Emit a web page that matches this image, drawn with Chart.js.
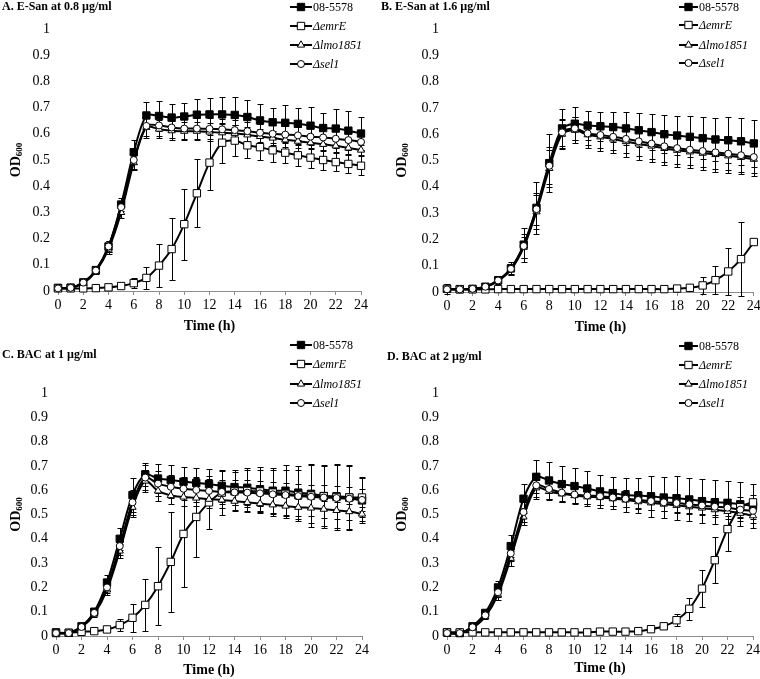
<!DOCTYPE html>
<html>
<head>
<meta charset="utf-8">
<script src="https://cdn.jsdelivr.net/npm/chart.js@4.4.0/dist/chart.umd.min.js"></script>
<style>
  body { margin: 0; background: #fff; }
  #wrap { position: relative; width: 760px; height: 679px; overflow: hidden; }
  canvas { position: absolute; }
</style>
</head>
<body>
<div id="wrap">
  <canvas id="cA" width="380" height="340" style="left:0;top:0"></canvas>
  <canvas id="cB" width="380" height="340" style="left:380px;top:0"></canvas>
  <canvas id="cC" width="380" height="349" style="left:0;top:330px"></canvas>
  <canvas id="cD" width="380" height="349" style="left:380px;top:330px"></canvas>
</div>
<script>
// time points (h)
const hours = [0,1,2,3,4,5,6,7,8,9,10,11,12,13,14,15,16,17,18,19,20,21,22,23,24];
const strains = ['08-5578', '\u0394emrE', '\u0394lmo1851', '\u0394sel1'];
const titles = ['A. E-San at 0.8 \u00b5g/ml', 'B. E-San at 1.6 \u00b5g/ml', 'C. BAC at 1 \u00b5g/ml', 'D. BAC at 2 \u00b5g/ml'];

// A. E-San 0.8
const A_wt      = [0.012,0.013,0.033,0.08,0.17,0.33,0.53,0.67,0.668,0.662,0.666,0.673,0.674,0.674,0.672,0.664,0.651,0.644,0.642,0.638,0.631,0.622,0.62,0.612,0.601];
const A_wt_sd   = [0.005,0.004,0.006,0.01,0.02,0.025,0.045,0.05,0.057,0.05,0.05,0.06,0.063,0.066,0.068,0.065,0.062,0.055,0.067,0.062,0.07,0.057,0.075,0.075,0.063];
const A_emrE    = [0.01,0.01,0.01,0.011,0.014,0.019,0.03,0.05,0.097,0.16,0.255,0.373,0.49,0.566,0.574,0.556,0.549,0.537,0.528,0.518,0.509,0.5,0.492,0.485,0.478];
const A_emrE_sd = [0.003,0.003,0.003,0.003,0.004,0.006,0.02,0.043,0.082,0.117,0.135,0.13,0.105,0.077,0.06,0.05,0.05,0.045,0.04,0.04,0.038,0.037,0.035,0.035,0.037];
const A_lmo     = [0.01,0.012,0.03,0.075,0.16,0.3,0.49,0.625,0.618,0.612,0.61,0.61,0.607,0.604,0.602,0.596,0.59,0.584,0.577,0.572,0.566,0.56,0.554,0.546,0.538];
const A_lmo_sd  = [0.004,0.004,0.006,0.01,0.02,0.02,0.03,0.04,0.035,0.035,0.035,0.035,0.035,0.033,0.032,0.03,0.03,0.028,0.027,0.025,0.025,0.025,0.025,0.022,0.02];
const A_sel     = [0.01,0.012,0.032,0.078,0.17,0.32,0.5,0.63,0.632,0.624,0.62,0.62,0.619,0.617,0.614,0.61,0.604,0.6,0.597,0.594,0.589,0.586,0.581,0.576,0.569];
const A_sel_sd  = [0.004,0.004,0.006,0.01,0.02,0.025,0.035,0.04,0.04,0.04,0.04,0.04,0.04,0.038,0.038,0.036,0.035,0.035,0.034,0.033,0.032,0.032,0.03,0.03,0.03];

// B. E-San 1.6
const B_wt      = [0.012,0.011,0.012,0.02,0.045,0.09,0.18,0.32,0.49,0.622,0.64,0.633,0.63,0.627,0.622,0.615,0.608,0.6,0.595,0.59,0.585,0.58,0.577,0.573,0.565];
const B_wt_sd   = [0.02,0.01,0.008,0.01,0.01,0.025,0.065,0.1,0.11,0.075,0.062,0.055,0.055,0.058,0.062,0.065,0.068,0.072,0.075,0.078,0.08,0.083,0.087,0.09,0.09];
const B_emrE    = [0.012,0.01,0.01,0.01,0.011,0.011,0.011,0.011,0.011,0.011,0.011,0.011,0.011,0.011,0.011,0.011,0.011,0.011,0.013,0.016,0.025,0.045,0.078,0.125,0.19];
const B_emrE_sd = [0.005,0.003,0.003,0.003,0.003,0.003,0.003,0.003,0.003,0.003,0.003,0.003,0.003,0.003,0.003,0.003,0.003,0.004,0.006,0.012,0.033,0.052,0.09,0.14,0.005];
const B_lmo     = [0.01,0.01,0.011,0.018,0.042,0.085,0.17,0.305,0.47,0.6,0.615,0.598,0.59,0.582,0.572,0.563,0.555,0.546,0.539,0.533,0.528,0.523,0.518,0.512,0.505];
const B_lmo_sd  = [0.01,0.006,0.006,0.008,0.01,0.02,0.04,0.065,0.07,0.055,0.05,0.05,0.052,0.055,0.057,0.06,0.06,0.062,0.063,0.063,0.064,0.065,0.065,0.065,0.063];
const B_sel     = [0.01,0.01,0.012,0.02,0.044,0.088,0.175,0.315,0.48,0.607,0.622,0.603,0.597,0.59,0.582,0.573,0.564,0.554,0.547,0.541,0.536,0.531,0.526,0.52,0.513];
const B_sel_sd  = [0.01,0.006,0.006,0.008,0.01,0.02,0.045,0.06,0.07,0.05,0.045,0.045,0.048,0.05,0.052,0.055,0.057,0.058,0.06,0.06,0.062,0.062,0.063,0.063,0.06];

// C. BAC 1
const C_wt      = [0.015,0.013,0.04,0.1,0.22,0.4,0.58,0.665,0.648,0.642,0.635,0.63,0.625,0.618,0.613,0.61,0.604,0.598,0.598,0.59,0.585,0.576,0.575,0.57,0.558];
const C_wt_sd   = [0.01,0.006,0.008,0.012,0.03,0.045,0.07,0.048,0.058,0.06,0.062,0.063,0.063,0.066,0.072,0.08,0.09,0.095,0.105,0.11,0.12,0.125,0.13,0.135,0.095];
const C_emrE    = [0.012,0.013,0.017,0.02,0.027,0.045,0.075,0.128,0.205,0.305,0.42,0.49,0.55,0.59,0.595,0.597,0.595,0.59,0.585,0.58,0.578,0.575,0.572,0.57,0.57];
const C_emrE_sd = [0.005,0.004,0.005,0.006,0.008,0.025,0.058,0.106,0.16,0.205,0.22,0.165,0.11,0.09,0.08,0.085,0.09,0.095,0.1,0.105,0.13,0.13,0.135,0.13,0.08];
const C_lmo     = [0.01,0.012,0.035,0.09,0.19,0.35,0.53,0.638,0.597,0.578,0.572,0.568,0.563,0.56,0.555,0.55,0.545,0.54,0.535,0.53,0.527,0.522,0.517,0.512,0.502];
const C_lmo_sd  = [0.008,0.005,0.006,0.01,0.02,0.03,0.04,0.045,0.04,0.035,0.035,0.035,0.035,0.035,0.035,0.035,0.035,0.035,0.035,0.035,0.035,0.035,0.035,0.033,0.03];
const C_sel     = [0.012,0.012,0.037,0.095,0.2,0.37,0.55,0.652,0.627,0.614,0.606,0.601,0.597,0.593,0.591,0.59,0.587,0.583,0.58,0.576,0.573,0.57,0.568,0.565,0.56];
const C_sel_sd  = [0.008,0.005,0.006,0.01,0.025,0.035,0.05,0.05,0.05,0.048,0.048,0.048,0.048,0.048,0.05,0.05,0.05,0.05,0.05,0.05,0.05,0.05,0.05,0.05,0.045];

// D. BAC 2
const D_wt      = [0.015,0.012,0.04,0.095,0.2,0.37,0.565,0.655,0.64,0.625,0.617,0.607,0.595,0.588,0.58,0.578,0.575,0.57,0.567,0.562,0.555,0.55,0.548,0.542,0.535];
const D_wt_sd   = [0.015,0.008,0.008,0.012,0.025,0.045,0.06,0.068,0.075,0.075,0.075,0.072,0.068,0.067,0.07,0.072,0.085,0.085,0.09,0.09,0.09,0.09,0.09,0.09,0.09];
const D_emrE    = [0.015,0.015,0.015,0.015,0.015,0.015,0.015,0.015,0.015,0.015,0.015,0.015,0.018,0.018,0.018,0.02,0.028,0.04,0.065,0.112,0.195,0.312,0.44,0.53,0.55];
const D_emrE_sd = [0.005,0.003,0.003,0.003,0.003,0.003,0.003,0.003,0.003,0.003,0.003,0.003,0.003,0.003,0.003,0.004,0.006,0.01,0.025,0.045,0.075,0.095,0.09,0.04,0.03];
const D_lmo     = [0.01,0.011,0.033,0.08,0.17,0.32,0.49,0.61,0.595,0.585,0.578,0.573,0.57,0.565,0.56,0.553,0.548,0.543,0.538,0.532,0.527,0.52,0.513,0.505,0.495];
const D_lmo_sd  = [0.008,0.005,0.006,0.01,0.02,0.03,0.035,0.045,0.035,0.032,0.03,0.03,0.03,0.03,0.03,0.03,0.03,0.03,0.03,0.03,0.03,0.03,0.03,0.03,0.03];
const D_sel     = [0.012,0.012,0.036,0.085,0.18,0.34,0.51,0.62,0.605,0.59,0.582,0.578,0.575,0.57,0.565,0.56,0.555,0.55,0.547,0.542,0.537,0.532,0.528,0.52,0.515];
const D_sel_sd  = [0.008,0.005,0.006,0.01,0.02,0.03,0.04,0.05,0.04,0.035,0.035,0.035,0.035,0.035,0.035,0.035,0.035,0.035,0.035,0.035,0.035,0.035,0.035,0.035,0.035];

const panels = [
  { id: 'cA', series: [A_wt, A_emrE, A_lmo, A_sel], sds: [A_wt_sd, A_emrE_sd, A_lmo_sd, A_sel_sd],
    area: [58, 361, 29, 291], title: [2, 7], legend: [290, 312, [7, 26, 45, 64]], xt: 326, yt: 16 },
  { id: 'cB', series: [B_wt, B_emrE, B_lmo, B_sel], sds: [B_wt_sd, B_emrE_sd, B_lmo_sd, B_sel_sd],
    area: [67, 374, 29, 292], title: [1, 7], legend: [299, 318, [7, 25, 45, 63]], xt: 327, yt: 22 },
  { id: 'cC', series: [C_wt, C_emrE, C_lmo, C_sel], sds: [C_wt_sd, C_emrE_sd, C_lmo_sd, C_sel_sd],
    area: [56, 362, 63, 306], title: [2, 25], legend: [290, 312, [15, 34, 54, 73]], xt: 340, yt: 16 },
  { id: 'cD', series: [D_wt, D_emrE, D_lmo, D_sel], sds: [D_wt_sd, D_emrE_sd, D_lmo_sd, D_sel_sd],
    area: [67, 373, 63, 306], title: [7, 27], legend: [299, 318, [16, 35, 54, 73]], xt: 338, yt: 22 }
];

const styles = [
  { pointStyle: 'rect', radius: 5.2, fill: '#000' },
  { pointStyle: 'rect', radius: 5.2, fill: '#fff' },
  { pointStyle: 'triangle', radius: 4.2, fill: '#fff' },
  { pointStyle: 'circle', radius: 3.5, fill: '#fff' }
];

const SERIF = '"Liberation Serif", "Times New Roman", serif';

function marker(ctx, st, x, y) {
  ctx.save();
  ctx.fillStyle = st.fill;
  ctx.strokeStyle = '#000';
  ctx.lineWidth = 1;
  ctx.beginPath();
  if (st.pointStyle === 'rect') {
    const s = Math.SQRT1_2 * st.radius;
    ctx.rect(x - s, y - s, 2 * s, 2 * s);
  } else if (st.pointStyle === 'triangle') {
    const r = st.radius;
    ctx.moveTo(x, y - r);
    ctx.lineTo(x + r * 0.866, y + r * 0.5);
    ctx.lineTo(x - r * 0.866, y + r * 0.5);
    ctx.closePath();
  } else {
    ctx.arc(x, y, st.radius, 0, Math.PI * 2);
  }
  ctx.fill();
  ctx.stroke();
  ctx.restore();
}

const decor = {
  id: 'decor',
  beforeDatasetsDraw(chart, args, opts) {
    const ctx = chart.ctx;
    const ys = chart.scales.y;
    ctx.save();
    ctx.strokeStyle = '#000';
    ctx.lineWidth = 1;
    chart.data.datasets.forEach((ds, d) => {
      const meta = chart.getDatasetMeta(d);
      meta.data.forEach((pt, i) => {
        const v = ds.data[i].y, e = ds.sd[i];
        const y1 = Math.round(ys.getPixelForValue(v + e)) + 0.5;
        const y2 = Math.round(ys.getPixelForValue(v - e)) + 0.5;
        const x = Math.round(pt.x) + 0.5;
        ctx.beginPath();
        ctx.moveTo(x, y1); ctx.lineTo(x, y2);
        ctx.moveTo(x - 3, y1); ctx.lineTo(x + 3, y1);
        ctx.moveTo(x - 3, y2); ctx.lineTo(x + 3, y2);
        ctx.stroke();
      });
    });
    ctx.restore();
  },
  afterDraw(chart, args, opts) {
    const ctx = chart.ctx;
    const p = opts.panel;
    const ca = chart.chartArea;
    ctx.save();
    ctx.fillStyle = '#000';
    ctx.textBaseline = 'middle';
    // panel title
    ctx.font = 'bold 12px ' + SERIF;
    ctx.textAlign = 'left';
    ctx.fillText(opts.title, p.title[0], p.title[1]);
    // x axis title
    ctx.font = 'bold 14px ' + SERIF;
    ctx.textAlign = 'center';
    ctx.fillText('Time (h)', (ca.left + ca.right) / 2, p.xt);
    // y axis title OD600
    ctx.save();
    ctx.translate(p.yt, (ca.top + ca.bottom) / 2);
    ctx.rotate(-Math.PI / 2);
    ctx.font = 'bold 14px ' + SERIF;
    const w1 = ctx.measureText('OD').width;
    ctx.font = 'bold 9px ' + SERIF;
    const w2 = ctx.measureText('600').width;
    ctx.textAlign = 'left';
    ctx.font = 'bold 14px ' + SERIF;
    ctx.fillText('OD', -(w1 + w2) / 2, 0);
    ctx.font = 'bold 9px ' + SERIF;
    ctx.fillText('600', -(w1 + w2) / 2 + w1, 4);
    ctx.restore();
    // legend
    const [lx1, lx2, rows] = p.legend;
    strains.forEach((name, k) => {
      const y = rows[k];
      ctx.strokeStyle = '#000';
      ctx.lineWidth = 2;
      ctx.beginPath();
      ctx.moveTo(lx1, y); ctx.lineTo(lx2, y);
      ctx.stroke();
      marker(ctx, styles[k], (lx1 + lx2) / 2, y);
      ctx.font = (k === 0 ? '' : 'italic ') + '12px ' + SERIF;
      ctx.textAlign = 'left';
      ctx.fillText(name, lx2 + 1, y + 1);
    });
    ctx.restore();
  }
};

panels.forEach((p, n) => {
  const canvas = document.getElementById(p.id);
  const W = canvas.width, H = canvas.height;
  const XH = 34;
  new Chart(canvas, {
    type: 'line',
    data: {
      datasets: p.series.map((vals, k) => ({
        label: strains[k],
        data: hours.map((h, i) => ({ x: h, y: vals[i] })),
        sd: p.sds[k],
        borderColor: '#000',
        borderWidth: 2,
        tension: 0.3,
        pointStyle: styles[k].pointStyle,
        pointRadius: styles[k].radius,
        pointBackgroundColor: styles[k].fill,
        pointBorderColor: '#000',
        pointBorderWidth: 1,
        fill: false,
        clip: false,
        order: 4 - k
      }))
    },
    options: {
      responsive: false,
      animation: false,
      layout: { padding: { left: 0, right: W - p.area[1], top: p.area[2], bottom: H - p.area[3] - XH } },
      plugins: {
        legend: { display: false },
        tooltip: { enabled: false },
        decor: { panel: p, title: titles[n] }
      },
      scales: {
        x: {
          type: 'linear', min: 0, max: 24,
          ticks: { stepSize: 2, color: '#000', font: { family: SERIF, size: 14 }, padding: 2, maxRotation: 0 },
          grid: { display: true, drawOnChartArea: false, drawTicks: true, tickLength: 4, color: '#8c8c8c' },
          border: { display: true, color: '#8c8c8c', width: 1 },
          afterFit: s => { s.height = XH; s.paddingLeft = 0; s.paddingRight = 0; }
        },
        y: {
          min: 0, max: 1,
          ticks: { stepSize: 0.1, color: '#000', font: { family: SERIF, size: 14 }, padding: 8,
                   callback: v => String(+v.toFixed(1)) },
          grid: { display: false, drawTicks: false },
          border: { display: false },
          afterFit: s => { s.width = p.area[0]; }
        }
      }
    },
    plugins: [decor]
  });
});
</script>
</body>
</html>
